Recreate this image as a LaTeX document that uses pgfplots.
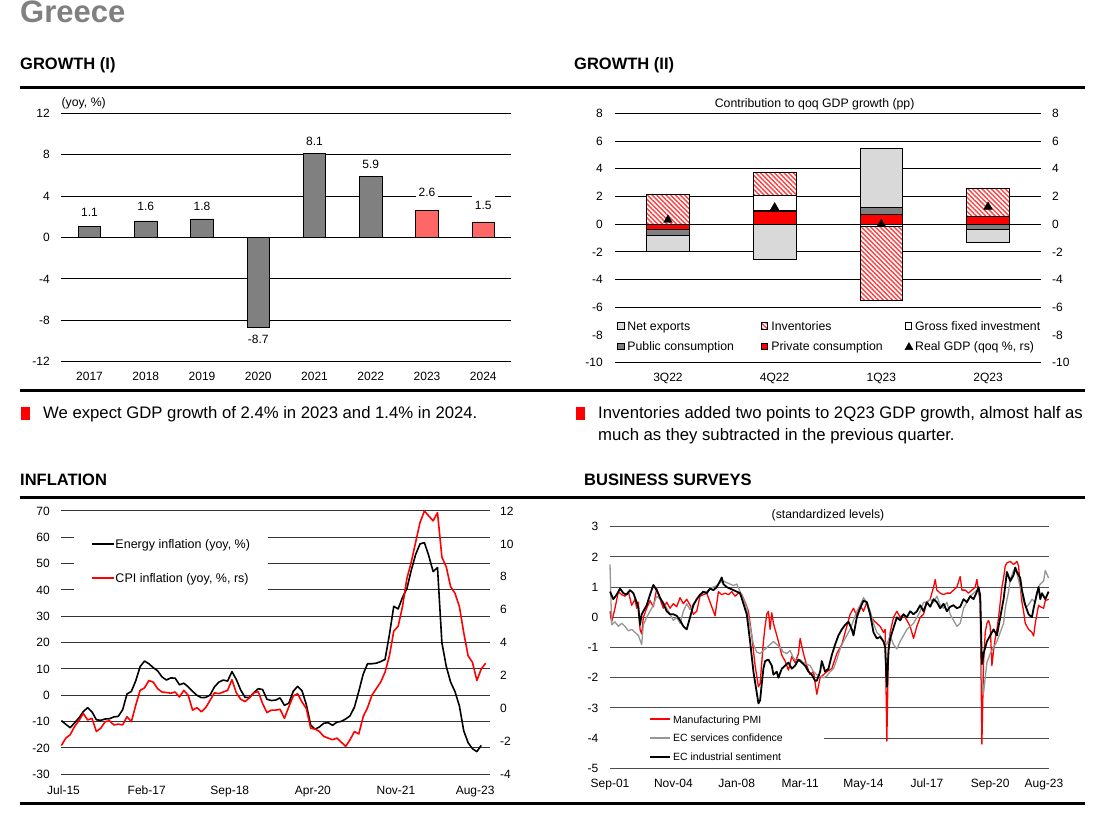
\documentclass[border=0pt]{standalone}
\usepackage{fontspec}
\setmainfont{Liberation Sans}
\usepackage{pgfplots}
\pgfplotsset{compat=1.18}
\usetikzlibrary{patterns.meta}
\definecolor{bargray}{RGB}{128,128,128}
\definecolor{salmon}{RGB}{255,102,102}
\definecolor{lgray}{RGB}{217,217,217}
\definecolor{dgray}{RGB}{128,128,128}
\definecolor{svcgray}{RGB}{150,150,150}
\definecolor{ttlgray}{RGB}{128,128,128}
\definecolor{pred}{RGB}{255,0,0}
\newcommand{\fs}[1]{\fontsize{#1}{#1}\selectfont}
\tikzset{invstyle/.style={fill=white, draw=black, line width=0.7pt,
    postaction={pattern color=red!75, pattern={Lines[angle=-45,distance=3.3pt,line width=1.4pt]}}}}
\pgfplotsset{
  panelbase/.style={
    scale only axis, anchor=south west,
    axis line style={draw=none},
    major tick style={draw=none}, minor tick style={draw=none},
    tick label style={font=\fs{12}, inner sep=0pt, text=black},
    ymajorgrids,
  },
}
\begin{document}
\begin{tikzpicture}
\useasboundingbox (0pt,0pt) rectangle (1117pt,817pt);
\fill[white] (0pt,0pt) rectangle (1117pt,817pt);

% titles and rules
\node[anchor=base west, inner sep=0pt, text=ttlgray, font=\bfseries\fs{31}] at (20pt,794pt) {Greece};
\node[anchor=base west, inner sep=0pt, font=\bfseries\fs{16.5}] at (20pt,747.5pt) {GROWTH (I)};
\node[anchor=base west, inner sep=0pt, font=\bfseries\fs{16.5}] at (574pt,747.5pt) {GROWTH (II)};
\node[anchor=base west, inner sep=0pt, font=\bfseries\fs{16.5}] at (20pt,331pt) {INFLATION};
\node[anchor=base west, inner sep=0pt, font=\bfseries\fs{16.5}] at (584pt,331pt) {BUSINESS SURVEYS};
\draw[line width=3pt] (19.5pt,729.7pt) -- (1085pt,729.7pt);
\draw[line width=3pt] (19.5pt,426.5pt) -- (1085pt,426.5pt);
\draw[line width=3pt] (19.5pt,319.7pt) -- (1085pt,319.7pt);
\draw[line width=3pt] (19.5pt,13.7pt) -- (1085pt,13.7pt);

% bullets
\fill[pred] (21pt,397pt) rectangle (30pt,410pt);
\fill[pred] (575.5pt,397pt) rectangle (584.5pt,410pt);
\node[anchor=base west, inner sep=0pt, font=\fs{16.7}] at (43pt,398pt) {We expect GDP growth of 2.4\% in 2023 and 1.4\% in 2024.};
\node[anchor=base west, inner sep=0pt, font=\fs{16.7}] at (598pt,398pt) {Inventories added two points to 2Q23 GDP growth, almost half as};
\node[anchor=base west, inner sep=0pt, font=\fs{16.7}] at (598pt,376pt) {much as they subtracted in the previous quarter.};

% ---------------- GROWTH (I)
\begin{axis}[panelbase, at={(61.4pt,455.3pt)}, width=450pt, height=248.4pt,
  xmin=-0.5, xmax=7.5, ymin=-12, ymax=12,
  ytick={-12,-8,-4,0,4,8,12}, yticklabels={-12,-8,-4,0,4,8,12},
  xtick={0,1,2,3,4,5,6,7}, xticklabels={2017,2018,2019,2020,2021,2022,2023,2024},
  grid style={black, line width=0.8pt},
  yticklabel style={xshift=-11.4pt},
  xticklabel style={anchor=base, yshift=-19.3pt},
  clip=false]
\addplot[ybar, bar width=22.5pt, bar shift=0pt, fill=bargray, draw=black, line width=0.7pt]
  coordinates {(0,1.1) (1,1.6) (2,1.8) (3,-8.7) (4,8.1) (5,5.9)};
\addplot[ybar, bar width=22.5pt, bar shift=0pt, fill=salmon, draw=black, line width=0.7pt]
  coordinates {(6,2.6) (7,1.5)};
\node[fill=white, inner xsep=3pt, inner ysep=5.6pt, font=\fs{12}] at (axis cs:0,2.45) {1.1};
\node[fill=white, inner xsep=3pt, inner ysep=5.6pt, font=\fs{12}] at (axis cs:1,2.97) {1.6};
\node[fill=white, inner xsep=3pt, inner ysep=5.6pt, font=\fs{12}] at (axis cs:2,2.97) {1.8};
\node[fill=white, inner xsep=3pt, inner ysep=5.6pt, font=\fs{12}] at (axis cs:3,-9.88) {-8.7};
\node[fill=white, inner xsep=3pt, inner ysep=5.6pt, font=\fs{12}] at (axis cs:4,9.28) {8.1};
\node[fill=white, inner xsep=3pt, inner ysep=5.6pt, font=\fs{12}] at (axis cs:5,7.05) {5.9};
\node[fill=white, inner xsep=3pt, inner ysep=5.6pt, font=\fs{12}] at (axis cs:6,4.35) {2.6};
\node[fill=white, inner xsep=3pt, inner ysep=5.6pt, font=\fs{12}] at (axis cs:7,3.09) {1.5};
\end{axis}
\node[anchor=west, inner sep=0pt, font=\fs{12.3}] at (61.4pt,713.7pt) {(yoy, \%)};

% ---------------- GROWTH (II)
\begin{axis}[panelbase, at={(614.6pt,454.3pt)}, width=426.8pt, height=249.4pt,
  xmin=-0.5, xmax=3.5, ymin=-10, ymax=8,
  ybar stacked, bar width=42.5pt,
  ytick={-10,-8,-6,-4,-2,0,2,4,6,8}, yticklabels={-10,-8,-6,-4,-2,0,2,4,6,8},
  xtick={0,1,2,3}, xticklabels={3Q22,4Q22,1Q23,2Q23},
  grid style={black, line width=0.8pt},
  yticklabel style={xshift=-11.6pt},
  xticklabel style={anchor=base, yshift=-19.3pt},
  legend columns=3, legend cell align=left,
  legend style={at={(axis description cs:-0.00375,0.1838)}, anchor=north west, fill=white, draw=none,
    inner xsep=3.7pt, inner ysep=3pt, row sep=8.4pt, column sep=0pt, font=\fs{12.3}, nodes={inner sep=0pt}},
  legend image code/.code={\draw[#1, line width=0.6pt] (0pt,-3.3pt) rectangle (6.6pt,3.3pt); \path (10pt,0pt);},
]
% contributions: positive and negative values are stacked apart by pgfplots
% order: private, public, GFI, inventories, net exports
\addplot[forget plot, fill=pred, draw=black, line width=0.7pt] coordinates {(0,-0.4) (1,0.95) (2,0.7) (3,0.58)};
\addplot[forget plot, fill=dgray, draw=black, line width=0.7pt] coordinates {(0,-0.42) (1,0.05) (2,0.53) (3,-0.38)};
\addplot[forget plot, fill=white, draw=black, line width=0.7pt] coordinates {(0,0) (1,1.05) (2,-0.15) (3,0)};
\addplot[forget plot, invstyle] coordinates {(0,2.15) (1,1.7) (2,-5.35) (3,2.0)};
\addplot[forget plot, fill=lgray, draw=black, line width=0.7pt] coordinates {(0,-1.11) (1,-2.55) (2,4.25) (3,-0.94)};
\addlegendimage{fill=lgray, draw=black}
\addlegendentry{\makebox[133.3pt][l]{\rule[-2pt]{0pt}{12.3pt}Net exports}}
\addlegendimage{invstyle}
\addlegendentry{\makebox[133.3pt][l]{\rule[-2pt]{0pt}{12.3pt}Inventories}}
\addlegendimage{fill=white, draw=black}
\addlegendentry{\makebox[133.3pt][l]{\rule[-2pt]{0pt}{12.3pt}Gross fixed investment}}
\addlegendimage{fill=dgray, draw=black}
\addlegendentry{\makebox[133.3pt][l]{\rule[-2pt]{0pt}{12.3pt}Public consumption}}
\addlegendimage{fill=pred, draw=black}
\addlegendentry{\makebox[133.3pt][l]{\rule[-2pt]{0pt}{12.3pt}Private consumption}}
\addlegendimage{legend image code/.code={\fill[black] (0pt,-3.5pt) -- (8pt,-3.5pt) -- (4pt,3.6pt) -- cycle; \path (9.3pt,0pt);}}
\addlegendentry{\makebox[133.3pt][l]{\rule[-2pt]{0pt}{12.3pt}Real GDP (qoq \%, rs)}}
\end{axis}
\begin{axis}[panelbase, at={(614.6pt,454.3pt)}, width=426.8pt, height=249.4pt,
  xmin=-0.5, xmax=3.5, ymin=-10, ymax=8, ymajorgrids=false, xtick=\empty,
  ytick={-10,-8,-6,-4,-2,0,2,4,6,8}, yticklabels={-10,-8,-6,-4,-2,0,2,4,6,8},
  yticklabel pos=right, yticklabel style={xshift=10.6pt}, clip=false]
\addplot[only marks, mark=triangle*, mark size=5pt, black] coordinates {(0,0.3) (1,1.2) (2,0.0) (3,1.25)};
\end{axis}
\node[font=\fs{12.3}, inner sep=0pt] at (814.6pt,713pt) {Contribution to qoq GDP growth (pp)};

% ---------------- INFLATION
\begin{axis}[panelbase, at={(61.4pt,42.7pt)}, width=428.6pt, height=263.3pt,
  xmin=0, xmax=98, ymin=-30, ymax=70,
  ytick={-30,-20,-10,0,10,20,30,40,50,60,70}, yticklabels={-30,-20,-10,0,10,20,30,40,50,60,70},
  xtick={0.5,19.5,38.5,57.5,76.5,94.6}, xticklabels={Jul-15,Feb-17,Sep-18,Apr-20,Nov-21,Aug-23},
  grid style={black!80, line width=1pt},
  yticklabel style={xshift=-11.4pt},
  xticklabel style={anchor=base, yshift=-20pt},
  legend cell align=left,
  legend style={at={(axis description cs:0.0282,0.925)}, anchor=north west, fill=white, draw=none,
    inner xsep=17.5pt, inner ysep=7pt, row sep=21.8pt, font=\fs{12.5}, nodes={inner sep=0pt}},
  legend image code/.code={\draw[#1] (0pt,0pt) -- (21.5pt,0pt); \path (22.5pt,0pt);},
  clip=false]
\addplot[forget plot, black, line width=1.6pt, line join=round] coordinates {
(0,-9.6) (1,-11.0) (2,-12.3) (3,-10.5) (4,-8.6) (5,-6.2) (6,-4.7) (7,-6.3) (8,-9.3) (9,-9.5)
(10,-9.0) (11,-8.9) (12,-8.2) (13,-8.0) (14,-5.5) (15,0.5) (16,1.5) (17,5.5) (18,10.9) (19,13.0)
(20,12.0) (21,10.5) (22,9.3) (23,7.0) (24,5.8) (25,6.6) (26,6.5) (27,4.0) (28,4.6) (29,3.2)
(30,1.5) (31,0.0) (32,-0.9) (33,-0.8) (34,0.1) (35,3.2) (36,5.0) (37,5.8) (38,5.4) (39,9.0)
(40,6.0) (41,2.0) (42,-0.8) (43,-0.8) (44,1.0) (45,2.5) (46,2.2) (47,-1.5) (48,-2.0) (49,-1.8)
(50,-1.0) (51,-3.8) (52,-3.0) (53,1.5) (54,3.4) (55,1.8) (56,-3.5) (57,-11.3) (58,-12.9) (59,-12.0)
(60,-10.6) (61,-10.4) (62,-11.4) (63,-10.2) (64,-9.9) (65,-9.0) (66,-7.8) (67,-4.5) (68,1.5) (69,8.0)
(70,12.0) (71,12.0) (72,12.2) (73,12.8) (74,13.6) (75,23.0) (76,33.8) (77,32.8) (78,37.2) (79,40.5)
(80,47.5) (81,53.5) (82,57.5) (83,58.0) (84,53.0) (85,47.0) (86,48.5) (87,20.0) (88,11.0) (89,5.0)
(90,1.4) (91,-4.0) (92,-13.5) (93,-18.0) (94,-20.3) (95,-21.4) (96,-19.0)};
\addlegendimage{black, line width=1.8pt}
\addlegendentry{\rule[-2pt]{0pt}{12.5pt}Energy inflation (yoy, \%)}
\addlegendimage{pred, line width=1.8pt}
\addlegendentry{\rule[-2pt]{0pt}{12.5pt}CPI inflation (yoy, \%, rs)}
\end{axis}
\begin{axis}[panelbase, at={(61.4pt,42.7pt)}, width=428.6pt, height=263.3pt,
  xmin=0, xmax=98, ymin=-4, ymax=12, ymajorgrids=false, xtick=\empty,
  ytick={-4,-2,0,2,4,6,8,10,12}, yticklabels={-4,-2,0,2,4,6,8,10,12},
  yticklabel pos=right, yticklabel style={xshift=10pt}, clip=false]
\addplot[pred, line width=1.6pt, line join=round] coordinates {
(0,-2.25) (1,-1.8) (2,-1.6) (3,-1.1) (4,-0.75) (5,-0.3) (6,-0.7) (7,-0.6) (8,-1.4) (9,-1.2)
(10,-0.8) (11,-0.75) (12,-1.0) (13,-0.95) (14,-1.0) (15,-0.5) (16,-0.8) (17,0.2) (18,1.1) (19,1.25)
(20,1.7) (21,1.6) (22,1.2) (23,1.0) (24,0.97) (25,0.93) (26,1.0) (27,0.7) (28,1.1) (29,0.8)
(30,-0.1) (31,0.05) (32,-0.2) (33,0.05) (34,0.5) (35,0.95) (36,0.9) (37,1.0) (38,1.1) (39,1.75)
(40,0.95) (41,0.56) (42,0.42) (43,0.65) (44,0.95) (45,1.03) (46,0.3) (47,-0.25) (48,-0.1) (49,-0.1)
(50,-0.05) (51,-0.6) (52,0.1) (53,0.75) (54,0.9) (55,0.4) (56,0.0) (57,-1.2) (58,-1.25) (59,-1.4)
(60,-1.7) (61,-1.8) (62,-1.9) (63,-1.8) (64,-2.05) (65,-2.3) (66,-1.9) (67,-1.4) (68,-1.55) (69,-0.5)
(70,0.05) (71,0.8) (72,1.2) (73,1.6) (74,2.2) (75,3.2) (76,4.7) (77,5.0) (78,6.2) (79,7.9)
(80,8.9) (81,10.1) (82,11.3) (83,12.0) (84,11.7) (85,11.4) (86,11.9) (87,9.2) (88,8.6) (89,7.4)
(90,7.0) (91,6.2) (92,4.6) (93,3.2) (94,2.8) (95,1.7) (96,2.4) (97,2.75)};
\end{axis}

% ---------------- BUSINESS SURVEYS
\begin{axis}[panelbase, at={(610pt,48.7pt)}, width=438.6pt, height=241.6pt,
  xmin=0, xmax=263, ymin=-5, ymax=3,
  ytick={-5,-4,-3,-2,-1,0,1,2,3}, yticklabels={-5,-4,-3,-2,-1,0,1,2,3},
  xtick={0,38,76,114,152,190,228,260.2}, xticklabels={Sep-01,Nov-04,Jan-08,Mar-11,May-14,Jul-17,Sep-20,Aug-23},
  grid style={black!70, line width=1pt},
  yticklabel style={xshift=-11.4pt},
  xticklabel style={anchor=base, yshift=-18.7pt},
  legend cell align=left,
  legend style={at={(axis description cs:-0.00547,0.2415)}, anchor=north west, fill=white, draw=none,
    inner xsep=41pt, inner ysep=4pt, row sep=8.3pt, font=\fs{10.5}, nodes={inner sep=0pt}},
  legend image code/.code={\draw[#1] (0pt,0pt) -- (20.4pt,0pt); \path (22.1pt,0pt);},
  clip=false]
\addplot[forget plot, pred, line width=1.3pt, line join=round] coordinates {
(0,0.2) (1,-0.15) (3,0.3) (5,0.85) (7,0.75) (9,0.7) (11,0.85) (13,0.4) (15,0.6) (16,0.3) (17,0.5) (18,-0.4) (19,-0.55)
(20,0.0) (22,0.3) (24,0.55) (26,0.35) (28,0.95) (30,0.6) (32,0.3) (34,0.5) (36,0.3) (38,0.45) (40,0.35) (42,0.65)
(44,0.45) (46,0.6) (48,0.4) (50,0.1) (52,0.2) (54,0.7) (56,0.75) (58,0.8) (60,0.5) (62,0.2) (63,0.05) (65,0.85)
(67,0.75) (69,0.8) (71,0.75) (73,0.85) (75,0.7) (77,0.8) (79,0.75) (81,0.5) (83,0.2) (85,-0.6) (87,-1.6) (89,-2.3)
(90,-2.2) (91,-1.5) (92,-0.8) (93,-0.3) (94,0.1) (95,0.2) (96,-0.4) (97,0.15) (98,-0.2) (99,-0.4) (101,-0.8)
(103,-1.25) (105,-1.45) (107,-1.75) (109,-1.3) (111,-1.5) (113,-1.2) (114,-0.7) (116,-1.2) (118,-1.6) (120,-1.9)
(122,-1.8) (124,-2.55) (126,-2.0) (128,-1.9) (130,-1.8) (133,-1.7) (136,-1.2) (139,-0.9) (141,-0.5) (143,-0.1)
(144,0.1) (146,0.3) (148,0.05) (150,0.4) (152,0.2) (154,0.5) (156,0.1) (158,-0.1) (160,-0.2) (162,-0.3) (164,-0.5)
(165,-0.4) (166,-4.1) (167,-1.0) (168,-0.5) (170,0.0) (172,0.2) (174,0.0) (176,0.1) (178,-0.1) (180,-0.3) (182,-0.7)
(184,-0.3) (186,0.0) (188,0.1) (190,0.5) (192,0.6) (194,1.0) (195,1.25) (196,0.9) (198,0.8) (200,0.75) (202,0.8)
(204,0.8) (206,0.9) (208,1.0) (210,1.35) (211,0.9) (213,0.9) (215,0.8) (217,0.9) (219,1.0) (220,1.25) (222,0.5)
(223,-4.2) (224,-1.5) (225,-0.5) (226,-0.2) (227,-0.1) (228,-0.3) (229,-1.6) (230,-1.1) (231,-0.7) (232,-0.4)
(233,0.0) (234,0.5) (235,1.0) (236,1.3) (237,1.7) (238,1.8) (240,1.85) (242,1.75) (244,1.85) (245,1.7) (246,1.0)
(247,0.5) (248,0.2) (249,-0.2) (251,-0.4) (253,-0.5) (254,-0.62) (255,-0.2) (256,0.1) (257,0.4) (258,0.35)
(260,0.3) (261,0.55) (263,0.6)};
\addplot[forget plot, svcgray, line width=1.3pt, line join=round] coordinates {
(0,1.75) (1,-0.25) (3,-0.15) (5,-0.3) (7,-0.2) (9,-0.3) (11,-0.45) (13,-0.4) (15,-0.5) (17,-0.6) (19,-0.9)
(20,-0.25) (22,0.0) (24,0.2) (26,0.4) (28,0.7) (30,0.6) (32,0.5) (34,0.3) (36,0.1) (38,-0.1) (40,0.0) (42,-0.2)
(44,0.2) (46,0.45) (48,0.25) (50,0.45) (52,0.6) (54,0.75) (56,0.8) (58,0.85) (60,0.95) (62,1.0) (64,1.05)
(66,1.15) (68,1.2) (70,1.15) (72,1.1) (74,1.05) (76,1.1) (78,0.85) (80,0.6) (82,0.3) (84,-0.3) (86,-0.9)
(88,-1.15) (90,-1.2) (92,-1.1) (94,-1.0) (96,-0.9) (98,-0.8) (100,-0.9) (102,-1.0) (104,-1.15) (106,-1.2)
(108,-1.1) (110,-1.35) (112,-1.45) (114,-1.4) (116,-1.5) (118,-1.55) (120,-1.6) (122,-1.8) (124,-1.9)
(126,-1.95) (128,-2.0) (130,-1.95) (132,-1.8) (134,-1.7) (136,-1.4) (138,-1.05) (140,-0.8) (142,-0.6)
(144,-0.4) (146,-0.1) (148,0.2) (150,0.4) (152,0.65) (154,0.5) (156,0.2) (158,-0.2) (160,-0.5) (162,-0.6)
(164,-0.8) (166,-0.9) (168,-0.6) (170,-0.9) (172,-1.05) (174,-0.8) (176,-0.6) (178,-0.4) (180,-0.3) (182,-0.2)
(184,0.0) (186,0.2) (188,0.5) (190,0.5) (192,0.6) (194,0.5) (196,0.7) (198,0.4) (200,0.3) (202,0.5) (204,0.1)
(206,-0.1) (208,-0.3) (210,-0.2) (212,0.3) (214,0.5) (216,0.7) (218,0.8) (220,0.9) (222,0.8) (223,-2.0)
(224,-2.5) (225,-2.0) (226,-1.5) (228,-1.2) (230,-1.0) (232,-0.8) (234,-0.5) (236,-0.2) (237,0.3) (239,0.85)
(240,1.25) (242,1.55) (243,1.6) (244,1.45) (246,1.0) (248,0.5) (250,0.35) (252,0.5) (253,0.6) (255,0.5)
(257,1.0) (258,1.1) (260,1.2) (261,1.55) (263,1.3)};
\addplot[forget plot, black, line width=1.8pt, line join=round] coordinates {
(0,0.85) (2,0.6) (4,0.75) (6,0.95) (8,0.8) (10,0.75) (12,0.9) (14,0.8) (16,0.5) (17,0.3) (18,-0.25) (19,0.1)
(20,0.2) (22,0.4) (24,0.75) (26,1.07) (28,0.9) (30,0.65) (32,0.45) (34,0.2) (36,0.1) (38,0.1) (40,0.05)
(42,-0.1) (44,-0.3) (46,-0.4) (48,0.0) (50,0.4) (52,0.6) (54,0.75) (56,0.85) (58,0.8) (60,0.95) (62,0.9)
(64,1.0) (66,1.2) (67,1.32) (68,1.1) (70,1.0) (72,0.95) (74,0.9) (76,0.85) (78,0.8) (80,0.45) (82,0.1)
(84,-0.8) (86,-1.8) (88,-2.5) (89,-2.85) (90,-2.75) (91,-2.2) (92,-1.7) (93,-1.45) (95,-1.4) (97,-1.6)
(98,-1.9) (100,-1.8) (101,-2.0) (103,-1.7) (105,-1.6) (107,-1.5) (109,-1.7) (111,-1.6) (113,-1.4) (115,-1.5)
(117,-1.6) (119,-1.8) (121,-1.9) (123,-2.1) (124,-2.1) (126,-1.8) (127,-1.45) (129,-1.8) (131,-1.7)
(133,-1.25) (135,-0.9) (137,-0.6) (139,-0.4) (141,-0.25) (143,-0.15) (145,-0.4) (146,-0.6) (148,0.0)
(150,0.3) (152,0.55) (154,0.5) (156,0.1) (158,-0.5) (160,-0.7) (162,-0.65) (164,-0.8) (165,-1.0) (166,-2.3)
(167,-1.1) (168,-0.7) (170,-0.35) (172,0.0) (174,-0.1) (176,0.1) (178,0.0) (180,0.2) (182,0.1) (184,0.2)
(186,0.4) (188,0.2) (190,0.5) (192,0.35) (194,0.6) (196,0.5) (198,0.3) (200,0.45) (202,0.2) (204,0.35)
(206,0.4) (208,0.3) (210,0.35) (212,0.6) (214,0.5) (216,0.7) (218,0.6) (220,0.85) (221,1.0) (222,0.7)
(223,-1.55) (224,-1.2) (225,-1.0) (226,-0.8) (228,-0.6) (230,-0.4) (232,-0.6) (234,0.0) (236,0.6) (238,1.5)
(240,1.2) (242,1.4) (243,1.65) (244,1.5) (246,1.3) (247,0.9) (249,0.4) (251,0.1) (253,0.0) (254,0.3)
(256,0.8) (257,1.0) (258,0.6) (259,0.8) (261,0.6) (263,0.85)};
\addlegendimage{pred, line width=2pt}
\addlegendentry{\rule[-1.7pt]{0pt}{10.7pt}Manufacturing PMI}
\addlegendimage{svcgray, line width=2pt}
\addlegendentry{\rule[-1.7pt]{0pt}{10.7pt}EC services confidence}
\addlegendimage{black, line width=2.2pt}
\addlegendentry{\rule[-1.7pt]{0pt}{10.7pt}EC industrial sentiment}
\end{axis}
\node[font=\fs{12.2}, inner sep=0pt] at (828pt,302pt) {(standardized levels)};
\end{tikzpicture}
\end{document}
